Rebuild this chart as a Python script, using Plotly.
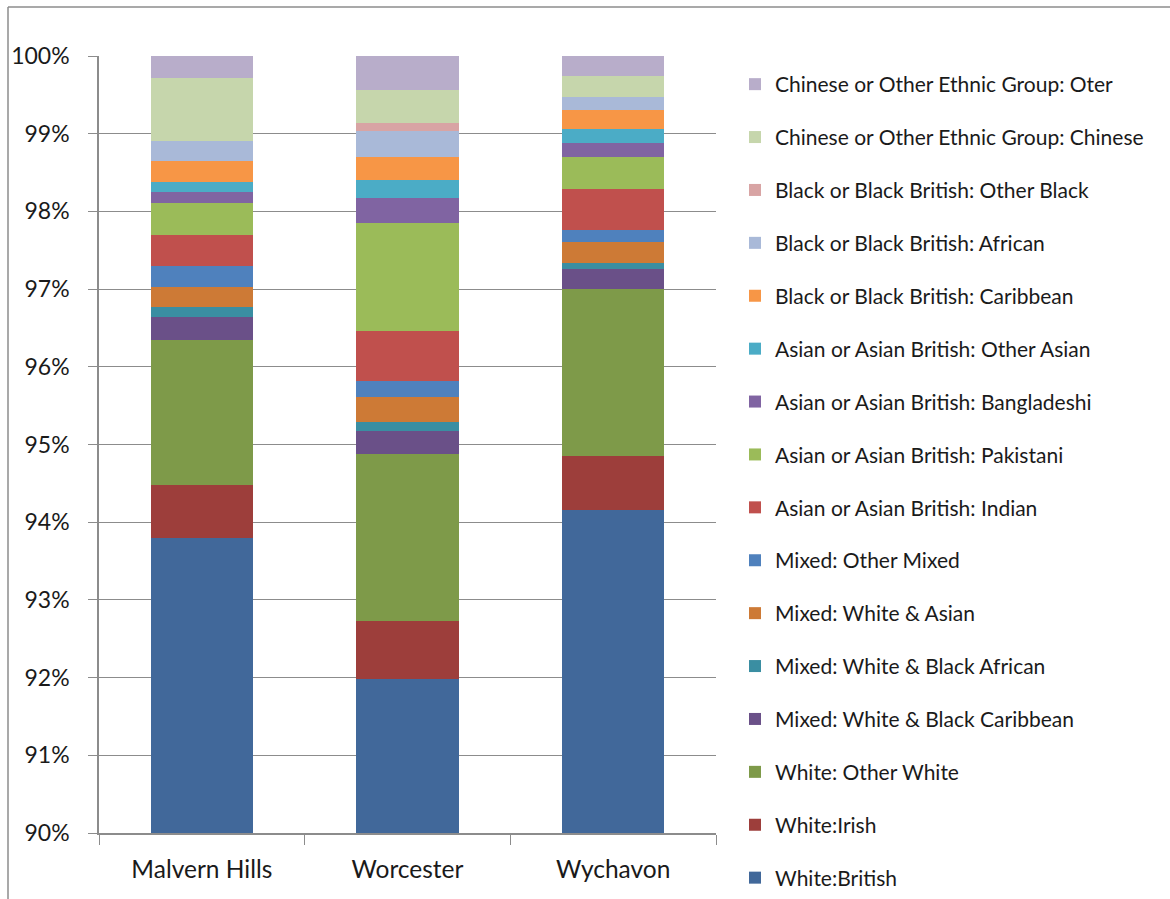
import plotly.graph_objects as go

# Districts shown along the x axis
districts = ["Malvern Hills", "Worcester", "Wychavon"]

# Ethnic groups, bottom of the stack first
groups = [
    "White:British",
    "White:Irish",
    "White: Other White",
    "Mixed: White & Black Caribbean",
    "Mixed: White & Black African",
    "Mixed: White & Asian",
    "Mixed: Other Mixed",
    "Asian or Asian British: Indian",
    "Asian or Asian British: Pakistani",
    "Asian or Asian British: Bangladeshi",
    "Asian or Asian British: Other Asian",
    "Black or Black British: Caribbean",
    "Black or Black British: African",
    "Black or Black British: Other Black",
    "Chinese or Other Ethnic Group: Chinese",
    "Chinese or Other Ethnic Group: Oter",
]

# Share of population (%) per group, one list per district
malvern_hills = [93.80, 0.68, 1.865, 0.29, 0.13, 0.265, 0.266, 0.40, 0.416,
                 0.134, 0.133, 0.27, 0.257, 0.0, 0.815, 0.279]
worcester = [91.98, 0.746, 2.146, 0.304, 0.112, 0.325, 0.202, 0.644, 1.386,
             0.329, 0.224, 0.304, 0.331, 0.107, 0.42, 0.438]
wychavon = [94.157, 0.695, 2.145, 0.258, 0.081, 0.266, 0.155, 0.531, 0.416,
            0.176, 0.177, 0.248, 0.171, 0.0, 0.267, 0.257]

colors = [
    "#41689A", "#9D3E3B", "#7E9A49", "#6A5088", "#3A8EA2", "#CD7A36",
    "#4F81BD", "#C0504D", "#9BBB59", "#8064A2", "#4BACC6", "#F79646",
    "#A9B9D8", "#D8A4A4", "#C6D6AC", "#B8ADCA",
]

fig = go.Figure()
n = len(groups)
for i, name in enumerate(groups):
    fig.add_trace(go.Bar(
        x=districts,
        y=[malvern_hills[i], worcester[i], wychavon[i]],
        name=name,
        legendgroup=name,
        legendrank=n - i,
        marker=dict(color=colors[i], line=dict(width=0)),
        hovertemplate="%{x}<br>" + name + ": %{y:.2f}%<extra></extra>",
    ))

W, H = 1170, 899
left, right, top, bottom = 99, 716, 56, 833

fig.update_layout(
    width=W, height=H,
    margin=dict(l=left, r=W - right, t=top, b=H - bottom, autoexpand=False),
    barmode="stack",
    bargap=0.504,
    plot_bgcolor="white",
    paper_bgcolor="white",
    font=dict(family="Lato, 'Open Sans', sans-serif", color="#1a1a1a"),
    legend=dict(
        traceorder="grouped",
        tracegroupgap=22.6,
        font=dict(size=21, color="#1a1a1a"),
        x=(735 - left) / (right - left),
        xanchor="left",
        y=1 - 64 / H,
        yref="container",
        yanchor="top",
        bgcolor="rgba(0,0,0,0)",
        itemwidth=30,
        maxheight=1000,
    ),
    showlegend=True,
)

fig.update_yaxes(
    range=[90, 100],
    dtick=1,
    tick0=90,
    ticksuffix="%",
    showgrid=True,
    gridcolor="#8C8C8C",
    gridwidth=1.3,
    showline=True,
    linecolor="#8C8C8C",
    linewidth=1.5,
    ticks="outside",
    ticklen=9,
    tickcolor="#8C8C8C",
    tickwidth=1.3,
    ticklabelstandoff=14,
    tickfont=dict(size=23, color="#1a1a1a"),
    zeroline=False,
    fixedrange=True,
)
fig.update_xaxes(
    showline=True,
    linecolor="#8C8C8C",
    linewidth=1.5,
    ticks="outside",
    tickson="boundaries",
    ticklen=10,
    tickcolor="#8C8C8C",
    tickwidth=1.3,
    tickfont=dict(size=24.5, color="#1a1a1a"),
    ticklabelstandoff=14,
    fixedrange=True,
)

# Outer chart frame (top and left edges)
fig.add_shape(type="line", xref="paper", yref="paper",
              x0=(8 - left) / (right - left), x1=(W + 5 - left) / (right - left),
              y0=(bottom - 7) / (bottom - top), y1=(bottom - 7) / (bottom - top),
              line=dict(color="#8C8C8C", width=1.5))
fig.add_shape(type="line", xref="paper", yref="paper",
              x0=(8 - left) / (right - left), x1=(8 - left) / (right - left),
              y0=(bottom - 7) / (bottom - top), y1=(bottom - H - 5) / (bottom - top),
              line=dict(color="#8C8C8C", width=1.5))

fig.write_html("out.html")
